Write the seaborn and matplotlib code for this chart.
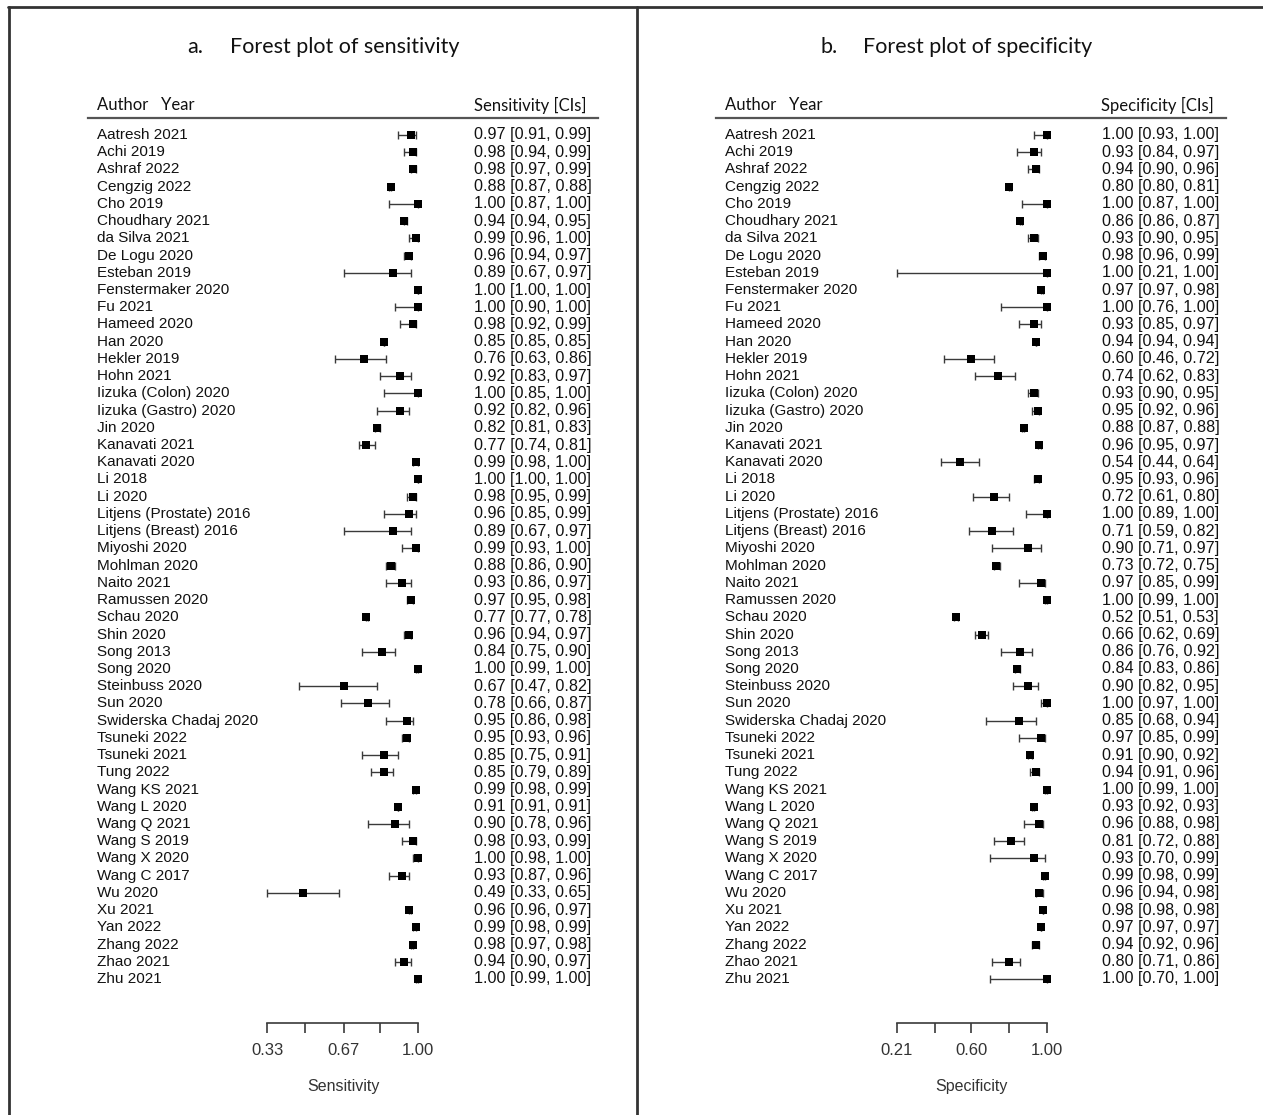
import numpy as np
import pandas as pd
import seaborn as sns
import matplotlib.pyplot as plt
from matplotlib.lines import Line2D
from matplotlib.transforms import blended_transform_factory

# study labels, top to bottom
studies = [
    "Aatresh 2021", "Achi 2019", "Ashraf 2022", "Cengzig 2022", "Cho 2019",
    "Choudhary 2021", "da Silva 2021", "De Logu 2020", "Esteban 2019",
    "Fenstermaker 2020", "Fu 2021", "Hameed 2020", "Han 2020", "Hekler 2019",
    "Hohn 2021", "Iizuka (Colon) 2020", "Iizuka (Gastro) 2020", "Jin 2020",
    "Kanavati 2021", "Kanavati 2020", "Li 2018", "Li 2020",
    "Litjens (Prostate) 2016", "Litjens (Breast) 2016", "Miyoshi 2020",
    "Mohlman 2020", "Naito 2021", "Ramussen 2020", "Schau 2020", "Shin 2020",
    "Song 2013", "Song 2020", "Steinbuss 2020", "Sun 2020",
    "Swiderska Chadaj 2020", "Tsuneki 2022", "Tsuneki 2021", "Tung 2022",
    "Wang KS 2021", "Wang L 2020", "Wang Q 2021", "Wang S 2019", "Wang X 2020",
    "Wang C 2017", "Wu 2020", "Xu 2021", "Yan 2022", "Zhang 2022", "Zhao 2021",
    "Zhu 2021",
]

sens = [0.97, 0.98, 0.98, 0.88, 1.00, 0.94, 0.99, 0.96, 0.89, 1.00,
        1.00, 0.98, 0.85, 0.76, 0.92, 1.00, 0.92, 0.82, 0.77, 0.99,
        1.00, 0.98, 0.96, 0.89, 0.99, 0.88, 0.93, 0.97, 0.77, 0.96,
        0.84, 1.00, 0.67, 0.78, 0.95, 0.95, 0.85, 0.85, 0.99, 0.91,
        0.90, 0.98, 1.00, 0.93, 0.49, 0.96, 0.99, 0.98, 0.94, 1.00]
sens_lo = [0.91, 0.94, 0.97, 0.87, 0.87, 0.94, 0.96, 0.94, 0.67, 1.00,
           0.90, 0.92, 0.85, 0.63, 0.83, 0.85, 0.82, 0.81, 0.74, 0.98,
           1.00, 0.95, 0.85, 0.67, 0.93, 0.86, 0.86, 0.95, 0.77, 0.94,
           0.75, 0.99, 0.47, 0.66, 0.86, 0.93, 0.75, 0.79, 0.98, 0.91,
           0.78, 0.93, 0.98, 0.87, 0.33, 0.96, 0.98, 0.97, 0.90, 0.99]
sens_hi = [0.99, 0.99, 0.99, 0.88, 1.00, 0.95, 1.00, 0.97, 0.97, 1.00,
           1.00, 0.99, 0.85, 0.86, 0.97, 1.00, 0.96, 0.83, 0.81, 1.00,
           1.00, 0.99, 0.99, 0.97, 1.00, 0.90, 0.97, 0.98, 0.78, 0.97,
           0.90, 1.00, 0.82, 0.87, 0.98, 0.96, 0.91, 0.89, 0.99, 0.91,
           0.96, 0.99, 1.00, 0.96, 0.65, 0.97, 0.99, 0.98, 0.97, 1.00]

spec = [1.00, 0.93, 0.94, 0.80, 1.00, 0.86, 0.93, 0.98, 1.00, 0.97,
        1.00, 0.93, 0.94, 0.60, 0.74, 0.93, 0.95, 0.88, 0.96, 0.54,
        0.95, 0.72, 1.00, 0.71, 0.90, 0.73, 0.97, 1.00, 0.52, 0.66,
        0.86, 0.84, 0.90, 1.00, 0.85, 0.97, 0.91, 0.94, 1.00, 0.93,
        0.96, 0.81, 0.93, 0.99, 0.96, 0.98, 0.97, 0.94, 0.80, 1.00]
spec_lo = [0.93, 0.84, 0.90, 0.80, 0.87, 0.86, 0.90, 0.96, 0.21, 0.97,
           0.76, 0.85, 0.94, 0.46, 0.62, 0.90, 0.92, 0.87, 0.95, 0.44,
           0.93, 0.61, 0.89, 0.59, 0.71, 0.72, 0.85, 0.99, 0.51, 0.62,
           0.76, 0.83, 0.82, 0.97, 0.68, 0.85, 0.90, 0.91, 0.99, 0.92,
           0.88, 0.72, 0.70, 0.98, 0.94, 0.98, 0.97, 0.92, 0.71, 0.70]
spec_hi = [1.00, 0.97, 0.96, 0.81, 1.00, 0.87, 0.95, 0.99, 1.00, 0.98,
           1.00, 0.97, 0.94, 0.72, 0.83, 0.95, 0.96, 0.88, 0.97, 0.64,
           0.96, 0.80, 1.00, 0.82, 0.97, 0.75, 0.99, 1.00, 0.53, 0.69,
           0.92, 0.86, 0.95, 1.00, 0.94, 0.99, 0.92, 0.96, 1.00, 0.93,
           0.98, 0.88, 0.99, 0.99, 0.98, 0.98, 0.97, 0.96, 0.86, 1.00]

sens_ticks = [0.33, 0.50, 0.67, 0.83, 1.00]
sens_ticklabels = ["0.33", "", "0.67", "", "1.00"]
spec_ticks = [0.21, 0.41, 0.60, 0.80, 1.00]
spec_ticklabels = ["0.21", "", "0.60", "", "1.00"]

W, H = 1263, 1115
sns.set_style("white")
plt.rcParams['font.family'] = ['Liberation Sans', 'DejaVu Sans']

fig = plt.figure(figsize=(W / 100, H / 100), dpi=100)

ROW0, ROWN = 135, 979          # pixel centre of first / last row
AX_TOP, AX_BOT = 118, 1023     # header line / axis line
STEP = (ROWN - ROW0) / (len(studies) - 1)
TEXT = '#111111'


def forest(est, lo, hi, left, right, px_lo, px_hi, ticks, ticklabels,
           title_letter, title_x, title, header, xlabel):
    ax = fig.add_axes([left / W, 1 - AX_BOT / H, (right - left) / W,
                       (AX_BOT - AX_TOP) / H])
    df = pd.DataFrame({"study": studies, "est": est, "lo": lo, "hi": hi})
    df["row"] = np.arange(len(df))

    # x scale so that the first/last tick land on the reference pixels
    v0, v1 = ticks[0], ticks[-1]
    scale = (px_hi - px_lo) / (v1 - v0)
    ax.set_xlim(v0 - (px_lo - left) / scale, v1 + (right - px_hi) / scale)

    ax.errorbar(df["est"], df["row"],
                xerr=[df["est"] - df["lo"], df["hi"] - df["est"]],
                fmt='none', ecolor='#3a3a3a', elinewidth=1.0,
                capsize=2.6, capthick=1.0, zorder=2)
    sns.scatterplot(data=df, x="est", y="row", marker='s', s=40,
                    color='black', edgecolor='black', linewidth=0,
                    legend=False, ax=ax, zorder=3)
    ax.set_ylim(len(df) - 1 + (AX_BOT - ROWN) / STEP, -(ROW0 - AX_TOP) / STEP)

    for side in ("left", "right"):
        ax.spines[side].set_visible(False)
    ax.spines["top"].set_color('#555555')
    ax.spines["top"].set_linewidth(1.6)
    ax.spines["bottom"].set_bounds(v0, v1)
    ax.spines["bottom"].set_color('#3a3a3a')
    ax.spines["bottom"].set_linewidth(1.2)
    ax.set_yticks([])
    ax.set_xticks(ticks)
    ax.set_xticklabels(ticklabels)
    ax.tick_params(axis='x', bottom=True, direction='out', length=7.5,
                   width=1.2, color='#3a3a3a', labelsize=12,
                   labelcolor='#333333', pad=7)
    ax.set_ylabel("")
    ax.set_xlabel(xlabel, fontsize=11.5, color='#333333', labelpad=15)

    tr = blended_transform_factory(fig.transFigure, ax.transData)
    name_x = (left + 9) / W
    ci_x = (left + 386) / W
    for _, r in df.iterrows():
        ax.text(name_x, r["row"], r["study"], transform=tr, ha='left',
                va='center', fontsize=11, color=TEXT)
        ax.text(ci_x, r["row"],
                f"{r['est']:.2f} [{r['lo']:.2f}, {r['hi']:.2f}]",
                transform=tr, ha='left', va='center', fontsize=11.6,
                color=TEXT)

    # header row
    fig.text(name_x, 1 - 105 / H, "Author   Year", family='Lato',
             fontsize=12, color=TEXT, ha='left', va='center')
    fig.text((right - 12) / W, 1 - 105 / H, header, family='Lato',
             fontsize=12, color=TEXT, ha='right', va='center')
    # panel title
    fig.text(title_x / W, 1 - 47 / H, title_letter, family='Lato',
             fontsize=15.5, color=TEXT, ha='left', va='center')
    fig.text((title_x + 43) / W, 1 - 47 / H, title, family='Lato',
             fontsize=15.5, color=TEXT, ha='left', va='center')
    return ax


forest(sens, sens_lo, sens_hi, 88, 598, 267, 418, sens_ticks,
       sens_ticklabels, "a.", 187, "Forest plot of sensitivity",
       "Sensitivity [CIs]", "Sensitivity")
forest(spec, spec_lo, spec_hi, 716, 1226, 897, 1047, spec_ticks,
       spec_ticklabels, "b.", 820, "Forest plot of specificity",
       "Specificity [CIs]", "Specificity")

# panel frame lines
frame = dict(color='#333333', linewidth=2.0, transform=fig.transFigure)
fig.add_artist(Line2D([8 / W, 1.0], [1 - 7 / H, 1 - 7 / H], **frame))
fig.add_artist(Line2D([9 / W, 9 / W], [0, 1 - 7 / H], **frame))
fig.add_artist(Line2D([637 / W, 637 / W], [0, 1 - 7 / H], **frame))

fig.savefig("out.png", dpi=100, facecolor='white')
